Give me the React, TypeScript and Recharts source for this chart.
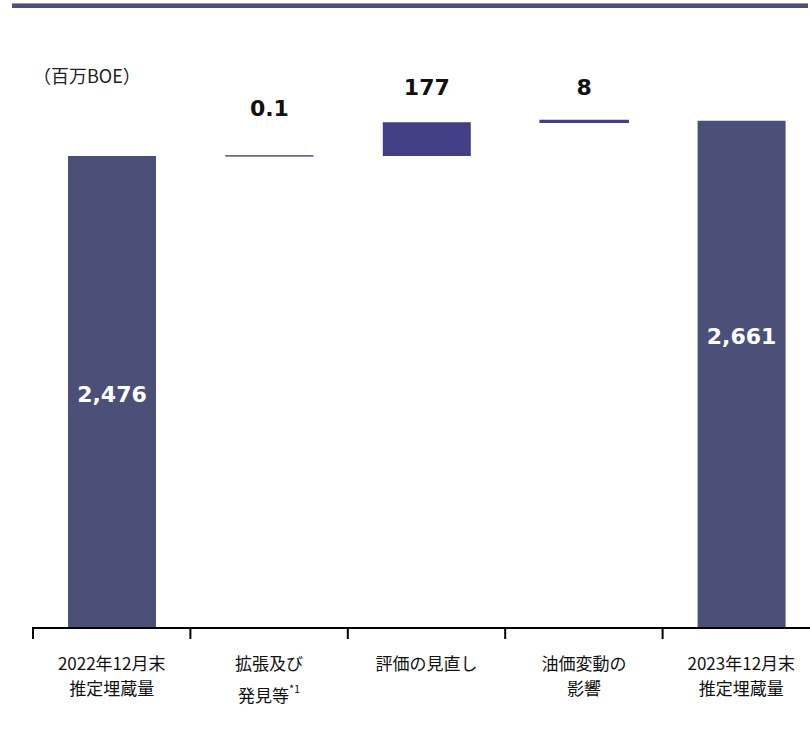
import { Bar, BarChart, Cell, LabelList, XAxis, YAxis } from 'recharts';

// waterfall: reserves end-2022 -> end-2023 (million BOE)
const categories = [
  '2022年12月末\n推定埋蔵量',
  '拡張及び\n発見等*1',
  '評価の見直し',
  '油価変動の\n影響',
  '2023年12月末\n推定埋蔵量',
];
const bases = [0, 2476, 2476.1, 2653.1, 0];
const deltas = [2476, 0.1, 177, 8, 2661];
const valueLabels = ['2,476', '0.1', '177', '8', '2,661'];

const SLATE = '#4b5079';
const INDIGO = '#433f86';
const barColors = [SLATE, SLATE, INDIGO, INDIGO, SLATE];

const CHART_W = 830;
const MARGIN = { top: 56, right: 10, bottom: 0, left: 33 };
const BAND = (CHART_W - MARGIN.left - MARGIN.right) / categories.length;

// label offset from the top of each bar segment
const LABEL_DY = [239, -47, -35, -33, 216];

const rows = categories.map((name, i) => ({
  name,
  base: bases[i],
  delta: deltas[i],
  label: valueLabels[i],
}));

function CatTick(props: any) {
  const { x, y, payload } = props;
  const lines: string[] = String(payload.value).split('\n');
  const out: any[] = [];
  let cy = y + 34;
  lines.forEach((line, k) => {
    const star = line.indexOf('*');
    out.push(
      <text
        key={k}
        x={x}
        y={cy}
        textAnchor="middle"
        dominantBaseline="central"
        fontSize={17}
        fill="#111"
        fontFamily="'Noto Sans CJK JP', 'Noto Sans', sans-serif"
      >
        {star >= 0 ? (
          <>
            {line.slice(0, star)}
            <tspan fontSize={11} dy={-6}>
              {line.slice(star)}
            </tspan>
          </>
        ) : (
          line
        )}
      </text>
    );
    const nextHasSup = lines[k + 1] && lines[k + 1].includes('*');
    cy += nextHasSup ? 32 : 25;
  });
  // boundary tick on the left edge of each category band
  const ex = x - BAND / 2;
  return (
    <g>
      <line x1={ex} x2={ex} y1={y - 1} y2={y + 11} stroke="#000" strokeWidth={2} />
      {out}
    </g>
  );
}

function ValueLabel(props: any) {
  const vb = props.viewBox ?? props;
  const { x, y, width } = vb;
  const i = props.index as number;
  const inside = i === 0 || i === categories.length - 1;
  return (
    <text
      x={x + width / 2}
      y={y + LABEL_DY[i]}
      textAnchor="middle"
      dominantBaseline="central"
      fontFamily="'DejaVu Sans', Verdana, sans-serif"
      fontWeight="bold"
      fontSize={22}
      fill={inside ? '#fff' : '#111'}
    >
      {valueLabels[i]}
    </text>
  );
}

export default function App() {
  return (
    <div
      style={{
        position: 'fixed',
        left: 0,
        top: 0,
        width: 810,
        height: 738,
        overflow: 'hidden',
        background: '#fff',
      }}
    >
      <div
        style={{
          position: 'absolute',
          left: 12,
          top: 3,
          width: 796,
          height: 4,
          background: '#4b4f7c',
          borderTop: '1px solid #9597b5',
        }}
      />
      <div
        style={{
          position: 'absolute',
          left: 33,
          top: 62,
          fontSize: 18,
          color: '#222',
          fontFamily: "'Noto Sans CJK JP', sans-serif",
          lineHeight: '26px',
        }}
      >
        （百万BOE）
      </div>
      <BarChart width={CHART_W} height={738} data={rows} margin={MARGIN} barSize={88}>
        <XAxis
          dataKey="name"
          interval={0}
          height={110}
          tickSize={0}
          tickMargin={0}
          axisLine={{ stroke: '#000', strokeWidth: 2 }}
          tickLine={false}
          tick={<CatTick />}
        />
        <YAxis hide domain={[0, 3000]} />
        <Bar dataKey="base" stackId="w" fill="transparent" isAnimationActive={false} />
        <Bar dataKey="delta" stackId="w" isAnimationActive={false}>
          {rows.map((r, i) => (
            <Cell
              key={r.name}
              fill={barColors[i]}
              stroke={i === 1 || i === 3 ? barColors[i] : 'none'}
              strokeWidth={i === 3 ? 1.5 : 1}
            />
          ))}
          <LabelList dataKey="label" content={<ValueLabel />} />
        </Bar>
      </BarChart>
    </div>
  );
}
